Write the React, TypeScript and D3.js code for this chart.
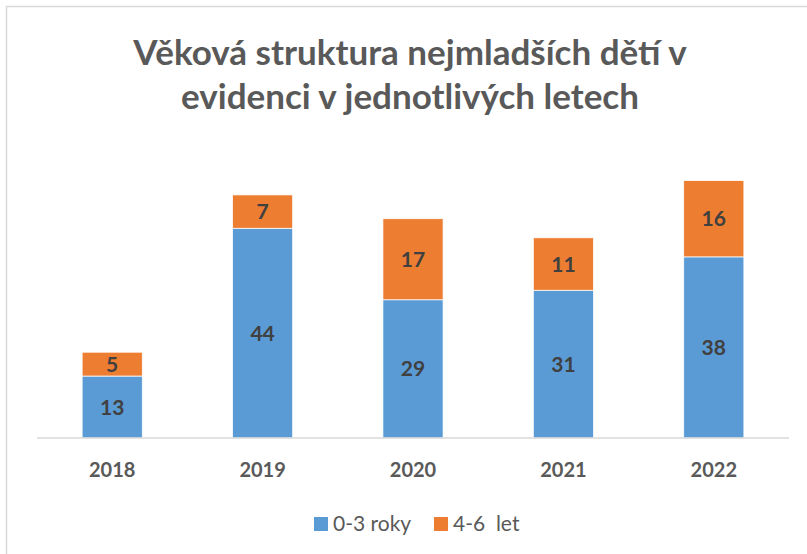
import React from "react";
import * as d3 from "d3";

const years = ["2018", "2019", "2020", "2021", "2022"];
const young = [13, 44, 29, 31, 38]; // 0-3 roky
const older = [5, 7, 17, 11, 16]; // 4-6 let
const seriesNames = ["0-3 roky", "4-6  let"];
const titleLines = ["Věková struktura nejmladších dětí v", "evidenci v jednotlivých letech"];

const W = 807;
const H = 554;
const colors = ["#5B9BD5", "#ED7D31"];
const FONT = "Lato, 'Open Sans', sans-serif";

export default function App() {
  const x = d3.scaleBand<string>().domain(years).range([37, 789]).paddingInner(0.6).paddingOuter(0.3);
  const y = d3.scaleLinear().domain([0, 60]).range([438, 152]);

  const data = years.map((yr, i) => ({ yr, a: young[i], b: older[i] }));
  const stack = d3.stack<any>().keys(["a", "b"])(data);

  return (
    <svg width={W} height={H} style={{ position: "absolute", left: 0, top: 0, background: "#fff" }} fontFamily={FONT}>
      <rect x={6.5} y={6.5} width={W + 20} height={H + 20} fill="#fff" stroke="#d9d9d9" strokeWidth={1.5} />
      {titleLines.map((t, i) => (
        <text key={i} x={410} y={65 + i * 44} textAnchor="middle" fontSize={35} fontWeight={700} fill="#595959">
          {t}
        </text>
      ))}
      {stack.map((s, si) =>
        s.map((d, i) => (
          <g key={`${si}-${i}`}>
            <rect
              x={x(years[i])!}
              y={y(d[1])}
              width={x.bandwidth()}
              height={y(d[0]) - y(d[1])}
              fill={colors[si]}
              stroke="#fff"
              strokeWidth={0.75}
            />
            <text
              x={x(years[i])! + x.bandwidth() / 2}
              y={(y(d[0]) + y(d[1])) / 2}
              dy="0.36em"
              textAnchor="middle"
              fontSize={21}
              fontWeight={700}
              fill="#404040"
            >
              {(d.data as any)[si === 0 ? "a" : "b"]}
            </text>
          </g>
        ))
      )}
      <line x1={37} x2={789} y1={438} y2={438} stroke="#d9d9d9" strokeWidth={1.5} />
      {years.map((yr) => (
        <text key={yr} x={x(yr)! + x.bandwidth() / 2} y={477} textAnchor="middle" fontSize={20} fontWeight={700} fill="#595959">
          {yr}
        </text>
      ))}
      <g>
        <rect x={314} y={517} width={14} height={14} fill={colors[0]} />
        <text x={333} y={531} fontSize={21} fill="#595959">{seriesNames[0]}</text>
        <rect x={434} y={517} width={14} height={14} fill={colors[1]} />
        <text x={453} y={531} fontSize={21} fill="#595959" style={{ whiteSpace: "pre" }}>{seriesNames[1]}</text>
      </g>
    </svg>
  );
}
